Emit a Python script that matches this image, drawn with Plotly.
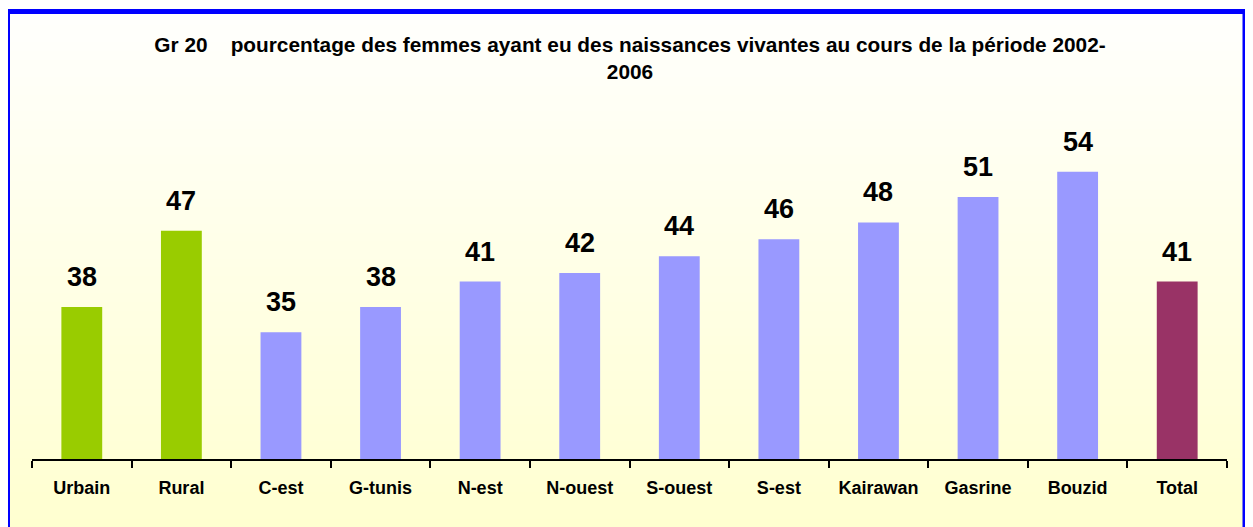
import plotly.graph_objects as go

categories = ["Urbain", "Rural", "C-est", "G-tunis", "N-est", "N-ouest",
              "S-ouest", "S-est", "Kairawan", "Gasrine", "Bouzid", "Total"]
values = [38, 47, 35, 38, 41, 42, 44, 46, 48, 51, 54, 41]
groups = ["milieu", "milieu", "region", "region", "region", "region",
          "region", "region", "region", "region", "region", "total"]
title_text = ("Gr 20\u00a0\u00a0\u00a0 pourcentage des femmes ayant eu des naissances "
              "vivantes au cours de la période 2002-<br>2006")

group_colors = {"milieu": "#99CC00", "region": "#9999FF", "total": "#993366"}

# the page body adds an 8px offset; figure is sized to fill the rest of the window
OFF = 8
W, H = 1253 - OFF, 527 - OFF
ML, MR, MT, MB = 32 - OFF, 26, 121 - OFF, 68
PW, PH = W - ML - MR, H - MT - MB

def px_x(x):  # page pixel -> paper
    return (x - OFF - ML) / PW

def px_y(y):
    return (H - MB - (y - OFF)) / PH

FONT = "Arial, Liberation Sans, sans-serif"

fig = go.Figure()
fig.add_trace(go.Bar(
    x=categories, y=values,
    marker=dict(color=[group_colors[g] for g in groups], line=dict(width=0)),
    width=0.41,
    hoverinfo="x+y",
))

# data labels
for c, v in zip(categories, values):
    fig.add_annotation(x=c, y=v, text=str(v), showarrow=False,
                       yanchor="middle", yshift=30,
                       font=dict(family=FONT, size=27, color="black", weight="bold"))

# background gradient strips
shapes = []
n = 60
top_c = (255, 255, 253)
bot_c = (255, 255, 208)
for i in range(n):
    y0 = OFF + i * H / n
    y1 = OFF + (i + 1) * H / n + 1
    t = i / (n - 1)
    col = tuple(round(top_c[k] + (bot_c[k] - top_c[k]) * t) for k in range(3))
    shapes.append(dict(type="rect", xref="paper", yref="paper", layer="below",
                       x0=px_x(0), x1=px_x(1260), y0=px_y(y1), y1=px_y(y0),
                       fillcolor="rgb(%d,%d,%d)" % col, line=dict(width=0)))
# blue frame
shapes.append(dict(type="rect", xref="paper", yref="paper", layer="above",
                   x0=px_x(7.5), x1=px_x(1245), y0=px_y(540), y1=px_y(11.5),
                   fillcolor="rgba(0,0,0,0)", line=dict(color="#0000FF", width=5)))

fig.update_layout(
    width=W, height=H,
    margin=dict(l=ML, r=MR, t=MT, b=MB, pad=0),
    paper_bgcolor="#FFFFEE",
    plot_bgcolor="rgba(0,0,0,0)",
    showlegend=False,
    shapes=shapes,
    title=dict(text=title_text, x=(630 - OFF) / W, xref="container", xanchor="center",
               y=1 - (51.5 - OFF) / H, yanchor="middle",
               font=dict(family=FONT, size=20.8, color="black", weight="bold")),
    xaxis=dict(showgrid=False, zeroline=False, showline=True, linecolor="black",
               linewidth=2, ticks="outside", tickson="boundaries", ticklen=7,
               tickwidth=2, tickcolor="black", ticklabelstandoff=11,
               tickfont=dict(family=FONT, size=18, color="black", weight="bold"),
               fixedrange=True),
    yaxis=dict(range=[20, 60], visible=False, showgrid=False, zeroline=False,
               fixedrange=True),
    bargap=0.59,
)

fig.write_html("out.html")
